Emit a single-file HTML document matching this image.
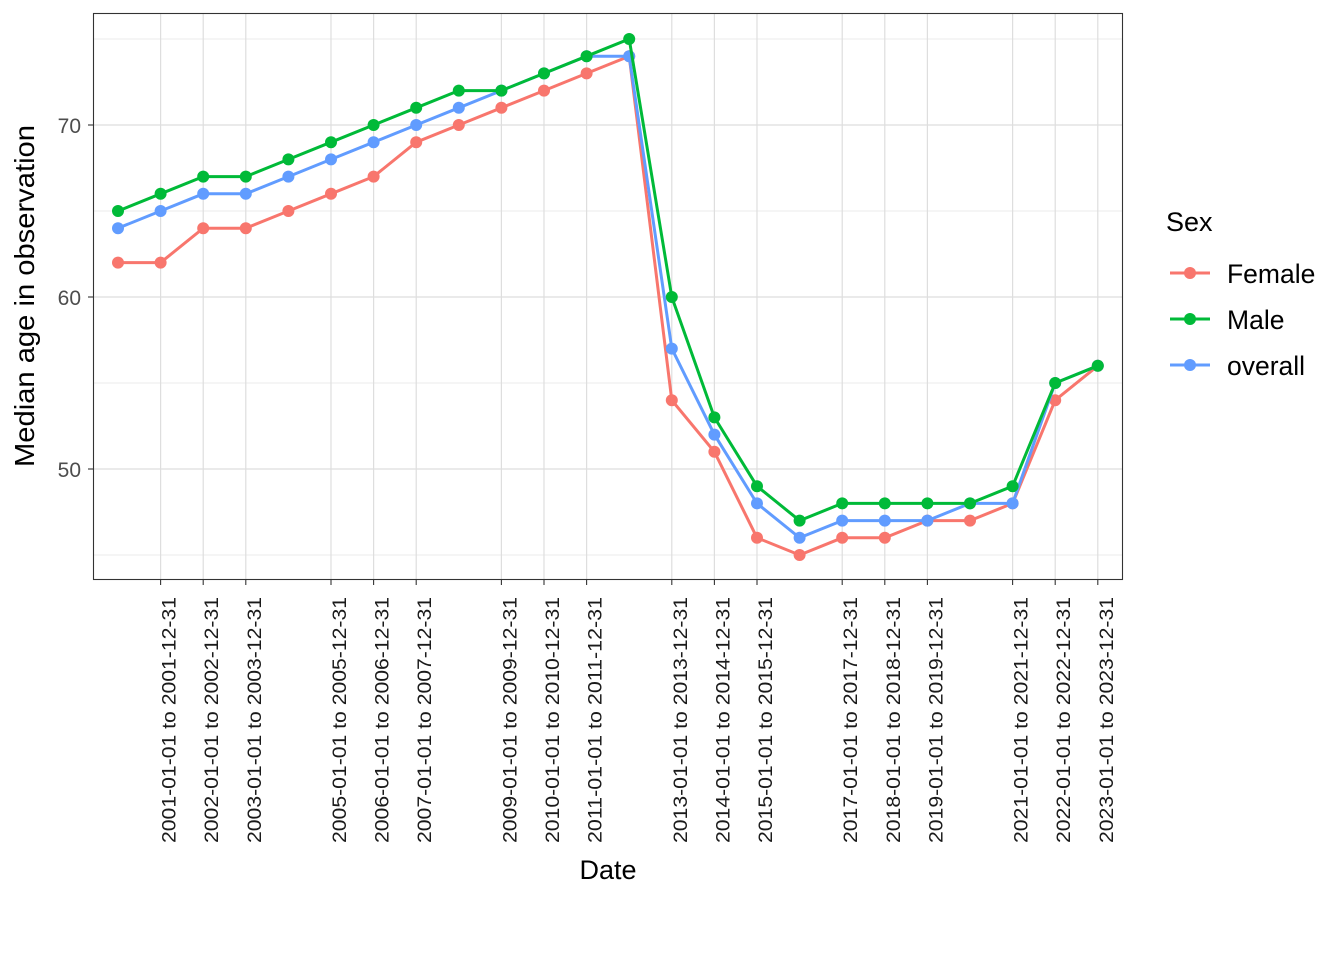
<!DOCTYPE html>
<html><head><style>body{margin:0;background:#fff}svg{display:block;font-family:"Liberation Sans",Arial,sans-serif}</style></head>
<body>
<svg width="1344" height="960" viewBox="0 0 1344 960" xmlns="http://www.w3.org/2000/svg">
<rect width="1344" height="960" fill="#fff"/>
<g id="grid"></g>
<g id="ser"></g>
<rect x="93.5" y="13.5" width="1029" height="566" fill="none" stroke="#333" stroke-width="1.1"/>
<g font-size="21" fill="#4d4d4d" text-anchor="end">
<text x="81" y="133">70</text><text x="81" y="305">60</text><text x="81" y="477">50</text>
</g>
<g stroke="#333" stroke-width="1.1"><line x1="88" x2="93" y1="125" y2="125"/><line x1="88" x2="93" y1="297" y2="297"/><line x1="88" x2="93" y1="469" y2="469"/></g>
<g id="xt"></g>
<text x="608" y="879" font-size="27" text-anchor="middle" fill="#000">Date</text>
<text transform="translate(34,296) rotate(-90)" font-size="28" text-anchor="middle" fill="#000" textLength="342" lengthAdjust="spacingAndGlyphs">Median age in observation</text>
<text x="1166" y="231" font-size="27">Sex</text>
<g stroke-width="3">
<line x1="1170" x2="1210" y1="273" y2="273" stroke="#F8766D"/><circle cx="1190" cy="273" r="6" fill="#F8766D"/>
<line x1="1170" x2="1210" y1="319" y2="319" stroke="#00BA38"/><circle cx="1190" cy="319" r="6" fill="#00BA38"/>
<line x1="1170" x2="1210" y1="365" y2="365" stroke="#619CFF"/><circle cx="1190" cy="365" r="6" fill="#619CFF"/>
</g>
<g font-size="26.5" fill="#000"><text x="1227" y="283">Female</text><text x="1227" y="329">Male</text><text x="1227" y="375">overall</text></g>
<script>
var X=function(i){return 118+i*42.6},Y=function(v){return 297-(v-60)*17.2};
var ns="http://www.w3.org/2000/svg",g=document.getElementById('grid'),s=document.getElementById('ser'),xt=document.getElementById('xt');
function el(p,t,a){var e=document.createElementNS(ns,t);for(var k in a)e.setAttribute(k,a[k]);p.appendChild(e);return e}
[45,55,65,75].forEach(function(v){el(g,'line',{x1:93,x2:1122,y1:Y(v),y2:Y(v),stroke:'#ebebeb','stroke-width':1})});
[50,60,70].forEach(function(v){el(g,'line',{x1:93,x2:1122,y1:Y(v),y2:Y(v),stroke:'#dedede','stroke-width':1.2})});
var yrs=[2001,2002,2003,2005,2006,2007,2009,2010,2011,2013,2014,2015,2017,2018,2019,2021,2022,2023];
yrs.forEach(function(y){var x=X(y-2000);el(g,'line',{x1:x,x2:x,y1:13,y2:579,stroke:'#dedede','stroke-width':1.2});
el(xt,'line',{x1:x,x2:x,y1:579,y2:585,stroke:'#333','stroke-width':1.1});
var t=el(xt,'text',{transform:'translate('+(x+15)+',597) rotate(-90)','font-size':19.5,'text-anchor':'end',fill:'#1a1a1a',textLength:246,lengthAdjust:'spacingAndGlyphs'});t.textContent=y+'-01-01 to '+y+'-12-31';});
var D=[['#F8766D',[62,62,64,64,65,66,67,69,70,71,72,73,74,54,51,46,45,46,46,47,47,48,54,56]],
['#619CFF',[64,65,66,66,67,68,69,70,71,72,73,74,74,57,52,48,46,47,47,47,48,48,55,56]],
['#00BA38',[65,66,67,67,68,69,70,71,72,72,73,74,75,60,53,49,47,48,48,48,48,49,55,56]]];
D.forEach(function(d){el(s,'polyline',{points:d[1].map(function(v,i){return X(i)+','+Y(v)}).join(' '),fill:'none',stroke:d[0],'stroke-width':3});
d[1].forEach(function(v,i){el(s,'circle',{cx:X(i),cy:Y(v),r:6,fill:d[0]})})});
</script>
</svg>
</body></html>
